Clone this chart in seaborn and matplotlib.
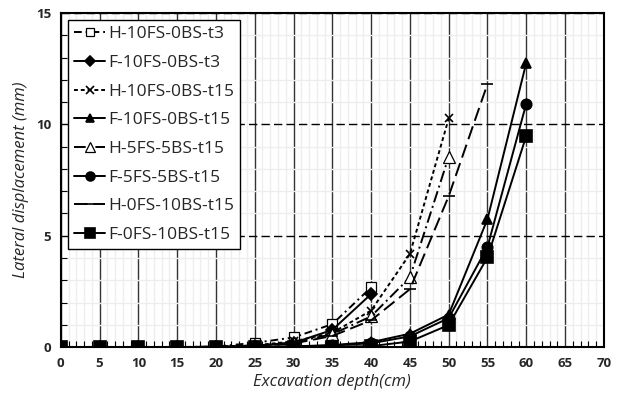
import matplotlib
matplotlib.use("Agg")
import matplotlib.pyplot as plt
from matplotlib.ticker import MultipleLocator
import seaborn as sns

# excavation depth (cm) and lateral displacement (mm)
depth_40 = [0, 5, 10, 15, 20, 25, 30, 35, 40]
depth_50 = [0, 5, 10, 15, 20, 25, 30, 35, 40, 45, 50]
depth_55 = [0, 5, 10, 15, 20, 25, 30, 35, 40, 45, 50, 55]
depth_60 = [0, 5, 10, 15, 20, 25, 30, 35, 40, 45, 50, 55, 60]

h_10fs_0bs_t3 = [0, 0, 0, 0, 0.02, 0.19, 0.43, 1.03, 2.68]
f_10fs_0bs_t3 = [0, 0, 0, 0, 0.01, 0.06, 0.19, 0.77, 2.38]
h_10fs_0bs_t15 = [0, 0, 0, 0, 0.01, 0.08, 0.25, 0.64, 1.64, 4.18, 10.27]
f_10fs_0bs_t15 = [0, 0, 0, 0, 0, 0.01, 0.03, 0.09, 0.22, 0.6, 1.46, 5.75, 12.77]
h_5fs_5bs_t15 = [0, 0, 0, 0, 0.01, 0.06, 0.2, 0.58, 1.38, 3.13, 8.55]
f_5fs_5bs_t15 = [0, 0, 0, 0, 0, 0.01, 0.02, 0.07, 0.17, 0.48, 1.3, 4.5, 10.94]
h_0fs_10bs_t15 = [0, 0, 0, 0, 0.01, 0.05, 0.16, 0.5, 1.2, 2.6, 6.78, 11.82]
f_0fs_10bs_t15 = [0, 0, 0, 0, 0, 0, 0.01, 0.02, 0.04, 0.25, 0.99, 4.03, 9.49]

series = [
    ("H-10FS-0BS-t3", depth_40, h_10fs_0bs_t3, "s", "white", (0, (4, 2, 1, 2)), 7.5),
    ("F-10FS-0BS-t3", depth_40, f_10fs_0bs_t3, "D", "black", "-", 6.5),
    ("H-10FS-0BS-t15", depth_50, h_10fs_0bs_t15, "x", "black", (0, (2, 1.5)), 6),
    ("F-10FS-0BS-t15", depth_60, f_10fs_0bs_t15, "^", "black", "-", 7),
    ("H-5FS-5BS-t15", depth_50, h_5fs_5bs_t15, "^", "white", (0, (6, 2, 1, 2)), 8),
    ("F-5FS-5BS-t15", depth_60, f_5fs_5bs_t15, "o", "black", "-", 7.5),
    ("H-0FS-10BS-t15", depth_55, h_0fs_10bs_t15, "_", "black", (0, (7, 3)), 9),
    ("F-0FS-10BS-t15", depth_60, f_0fs_10bs_t15, "s", "black", "-", 8.5),
]

sns.set_theme(style="white")
plt.rcParams["font.family"] = ["Open Sans", "DejaVu Sans"]

fig = plt.figure(figsize=(6.2, 3.98), dpi=100)
ax = fig.add_axes([0.098, 0.128, 0.876, 0.839])

for label, xs, ys, mk, face, ls, ms in series:
    sns.lineplot(x=xs, y=ys, ax=ax, color="black", linestyle=ls, linewidth=1.4,
                 marker=mk, markersize=ms, markerfacecolor=face,
                 markeredgecolor="black", markeredgewidth=0.9 if face == "white" else 1.2,
                 label=label, zorder=3)

ax.set_xlim(0, 70)
ax.set_ylim(0, 15)
ax.xaxis.set_major_locator(MultipleLocator(5))
ax.xaxis.set_minor_locator(MultipleLocator(1))
ax.yaxis.set_major_locator(MultipleLocator(5))
ax.yaxis.set_minor_locator(MultipleLocator(1))

ax.grid(which="minor", color="#eeeeee", linewidth=1.0, zorder=0)
ax.grid(which="major", axis="x", color="#333333", linewidth=1.0, zorder=1)
ax.grid(which="major", axis="y", color="black", linewidth=1.0, linestyle=(0, (6, 3)), zorder=1)
ax.set_axisbelow(True)

ax.tick_params(which="major", length=0, pad=7, labelsize=9.5)
ax.tick_params(which="minor", direction="in", length=4, width=0.8, color="black",
               bottom=True, left=True)
for lab in ax.get_xticklabels() + ax.get_yticklabels():
    lab.set_fontweight("bold")

for s in ax.spines.values():
    s.set_color("black")
    s.set_linewidth(1.5)

ax.set_xlabel("Excavation depth(cm)", fontsize=12, style="italic", labelpad=3)
ax.set_ylabel("Lateral displacement (mm)", fontsize=12, style="italic", labelpad=5)

leg = ax.legend(loc="upper left", bbox_to_anchor=(0.013, 0.979), borderaxespad=0,
                fontsize=12.5, handlelength=1.8, handletextpad=0.15, labelspacing=0.72,
                borderpad=0.35, markerscale=0.85, frameon=True, fancybox=False, framealpha=1)
leg.get_frame().set_edgecolor("black")
leg.get_frame().set_linewidth(1.0)

fig.savefig("out.png", dpi=100)
